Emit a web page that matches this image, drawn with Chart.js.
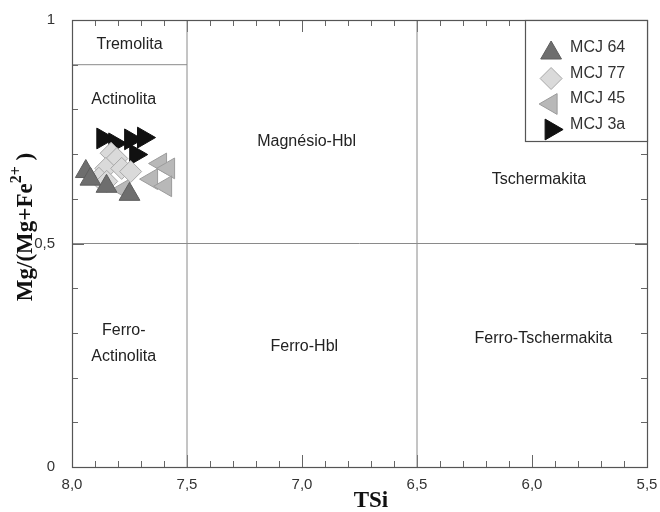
<!DOCTYPE html>
<html>
<head>
<meta charset="utf-8">
<script src="https://cdn.jsdelivr.net/npm/chart.js@4.4.1/dist/chart.umd.min.js"></script>
<style>
  html, body { margin: 0; padding: 0; background: #fff; }
  #wrap { width: 660px; height: 512px; position: relative; }
</style>
</head>
<body>
<div id="wrap"><canvas id="chart" width="660" height="512"></canvas></div>
<script>
// dados (TSi, Mg/(Mg+Fe2+))
const mcj64X = [7.94, 7.92, 7.85, 7.75];
const mcj64Y = [0.661, 0.644, 0.628, 0.61];
const mcj77X = [7.83, 7.805, 7.853, 7.784, 7.745, 7.883, 7.849];
const mcj77Y = [0.702, 0.69, 0.668, 0.668, 0.661, 0.646, 0.639];
const mcj45X = [7.615, 7.58, 7.654, 7.593, 7.775];
const mcj45Y = [0.679, 0.668, 0.644, 0.628, 0.621];
const mcj3aX = [7.866, 7.814, 7.745, 7.689, 7.723];
const mcj3aY = [0.735, 0.724, 0.733, 0.737, 0.699];

const xTicks = [8.0, 7.5, 7.0, 6.5, 6.0, 5.5];
const yTicks = [0, 0.5, 1];

// limites dos campos
const fieldLines = [
  [[7.5, 0], [7.5, 1]],
  [[6.5, 0], [6.5, 1]],
  [[8.0, 0.5], [5.5, 0.5]],
  [[8.0, 0.9], [7.5, 0.9]]
];
const fieldNames = [
  { t: "Tremolita", x: 7.75, y: 0.945 },
  { t: "Actinolita", x: 7.775, y: 0.822 },
  { t: "Magnésio-Hbl", x: 6.98, y: 0.728 },
  { t: "Tschermakita", x: 5.97, y: 0.643 },
  { t: "Ferro-", x: 7.775, y: 0.305 },
  { t: "Actinolita", x: 7.775, y: 0.248 },
  { t: "Ferro-Hbl", x: 6.99, y: 0.27 },
  { t: "Ferro-Tschermakita", x: 5.95, y: 0.288 }
];

const pts = (xs, ys) => xs.map((x, i) => ({ x: x, y: ys[i] }));

const series = [
  { label: "MCJ 64", data: pts(mcj64X, mcj64Y), style: "triangle", rot: 0, fill: "#6e6e6e", line: "#5e5e5e", r: 12 },
  { label: "MCJ 77", data: pts(mcj77X, mcj77Y), style: "rectRot", rot: 0, fill: "#dadada", line: "#a8a8a8", r: 11 },
  { label: "MCJ 45", data: pts(mcj45X, mcj45Y), style: "triangle", rot: -90, fill: "#b8b8b8", line: "#9c9c9c", r: 12 },
  { label: "MCJ 3a", data: pts(mcj3aX, mcj3aY), style: "triangle", rot: 90, fill: "#111111", line: "#111111", r: 12 }
];

const datasets = series.map((s) => ({
  label: s.label,
  data: s.data,
  pointStyle: s.style,
  rotation: s.rot,
  pointRadius: s.r,
  pointHoverRadius: s.r,
  backgroundColor: s.fill,
  borderColor: s.line,
  borderWidth: 1,
  showLine: false
}));

fieldLines.forEach((seg) => {
  datasets.push({
    label: "",
    data: seg.map((p) => ({ x: p[0], y: p[1] })),
    showLine: true,
    pointRadius: 0,
    borderColor: "#8a8a8a",
    borderWidth: 1,
    fill: false
  });
});

const fmt = (v) => {
  if (v === 0) return "0";
  if (v === 1) return "1";
  return v.toFixed(1).replace(".", ",");
};

const tickFont = "'Liberation Sans', Arial, sans-serif";

const overlay = {
  id: "overlay",
  beforeDatasetsDraw(chart) {
    const { ctx, chartArea: a, scales: { x, y } } = chart;
    ctx.save();
    ctx.strokeStyle = "#666";
    ctx.lineWidth = 1;
    // ticks menores para dentro
    ctx.beginPath();
    for (let i = 1; i < 25; i++) {
      const v = 8 - i * 0.1;
      const px = Math.round(x.getPixelForValue(v)) + 0.5;
      const len = i % 5 === 0 ? 12 : 6;
      ctx.moveTo(px, a.bottom);
      ctx.lineTo(px, a.bottom - len);
      ctx.moveTo(px, a.top);
      ctx.lineTo(px, a.top + len);
    }
    for (let i = 1; i < 10; i++) {
      const py = Math.round(y.getPixelForValue(i * 0.1)) + 0.5;
      const len = i === 5 ? 12 : 6;
      ctx.moveTo(a.left, py);
      ctx.lineTo(a.left + len, py);
      ctx.moveTo(a.right, py);
      ctx.lineTo(a.right - len, py);
    }
    ctx.stroke();
    // nomes dos campos
    ctx.fillStyle = "#222";
    ctx.font = "16px 'Liberation Sans', Arial, sans-serif";
    ctx.textAlign = "center";
    ctx.textBaseline = "middle";
    fieldNames.forEach((f) => {
      ctx.fillText(f.t, x.getPixelForValue(f.x), y.getPixelForValue(f.y));
    });
    ctx.restore();
  },
  afterDraw(chart) {
    const { ctx, chartArea: a, scales: { x, y } } = chart;
    ctx.save();
    // moldura
    ctx.strokeStyle = "#555";
    ctx.lineWidth = 1.2;
    ctx.strokeRect(Math.round(a.left) + 0.5, Math.round(a.top) + 0.5, Math.round(a.right - a.left), Math.round(a.bottom - a.top));

    // legenda
    const lx = x.getPixelForValue(6.03), ly = a.top;
    const lw = a.right - lx, lh = 121;
    ctx.fillStyle = "#fff";
    ctx.fillRect(lx, ly, lw, lh);
    ctx.strokeStyle = "#555";
    ctx.lineWidth = 1.2;
    ctx.strokeRect(Math.round(lx) + 0.5, Math.round(ly) + 0.5, Math.round(lw), lh);
    ctx.font = "16px 'Liberation Sans', Arial, sans-serif";
    ctx.textAlign = "left";
    ctx.textBaseline = "middle";
    series.forEach((s, i) => {
      const cy = ly + 30 + i * 25.5;
      ctx.fillStyle = s.fill;
      ctx.strokeStyle = s.line;
      ctx.lineWidth = 1;
      Chart.helpers.drawPoint(ctx, { pointStyle: s.style, rotation: s.rot, radius: s.r, borderWidth: 1 }, lx + 26, cy + 3);
      ctx.fillStyle = "#333";
      ctx.fillText(s.label, lx + 45, cy - 2);
    });

    // titulos dos eixos
    ctx.fillStyle = "#111";
    ctx.font = "bold 23px 'Liberation Serif', 'Times New Roman', serif";
    ctx.textAlign = "center";
    ctx.textBaseline = "middle";
    ctx.fillText("TSi", 371, 501);

    ctx.translate(26, 227);
    ctx.rotate(-Math.PI / 2);
    const p1 = "Mg/(Mg+Fe", p2 = "2+", p3 = " )";
    const big = "bold 23px 'Liberation Serif', serif";
    const small = "bold 16px 'Liberation Serif', serif";
    ctx.font = big; const w1 = ctx.measureText(p1).width; const w3 = ctx.measureText(p3).width;
    ctx.font = small; const w2 = ctx.measureText(p2).width;
    let sx = -(w1 + w2 + w3) / 2;
    ctx.textAlign = "left";
    ctx.font = big; ctx.fillText(p1, sx, 0); sx += w1;
    ctx.font = small; ctx.fillText(p2, sx, -9); sx += w2;
    ctx.font = big; ctx.fillText(p3, sx, 0);
    ctx.restore();
  }
};

new Chart(document.getElementById("chart").getContext("2d"), {
  type: "scatter",
  data: { datasets: datasets },
  options: {
    responsive: false,
    animation: false,
    layout: { padding: { left: 0, right: 8, top: 20, bottom: 0 } },
    plugins: { legend: { display: false }, tooltip: { enabled: false } },
    scales: {
      x: {
        type: "linear",
        reverse: true,
        min: 5.5,
        max: 8,
        afterBuildTicks: (s) => { s.ticks = xTicks.map((v) => ({ value: v })); },
        afterFit: (s) => { s.height = 45; },
        grid: { display: false },
        border: { display: false },
        ticks: {
          callback: (v) => fmt(v),
          color: "#333",
          padding: 1,
          maxRotation: 0,
          font: { family: tickFont, size: 15 }
        }
      },
      y: {
        type: "linear",
        min: 0,
        max: 1,
        afterBuildTicks: (s) => { s.ticks = yTicks.map((v) => ({ value: v })); },
        afterFit: (s) => { s.width = 72; },
        grid: { display: false },
        border: { display: false },
        ticks: {
          callback: (v) => fmt(v),
          color: "#333",
          padding: 9,
          font: { family: tickFont, size: 15 }
        }
      }
    }
  },
  plugins: [overlay]
});
</script>
</body>
</html>
